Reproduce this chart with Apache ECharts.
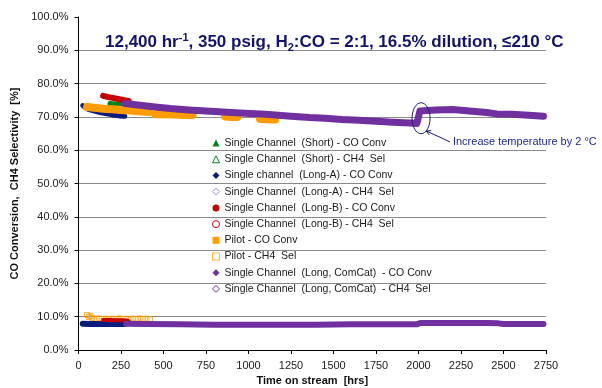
<!DOCTYPE html>
<html>
<head>
<meta charset="utf-8">
<script src="https://cdn.jsdelivr.net/npm/echarts@6/dist/echarts.min.js"></script>
<style>
html,body{margin:0;padding:0;background:#fff;}
#chart{width:602px;height:388px;}
</style>
</head>
<body>
<div id="chart"></div>
<script>
// ---- data (hours on stream, %) ----
const xTicks = [0, 250, 500, 750, 1000, 1250, 1500, 1750, 2000, 2250, 2500, 2750];
const yTicks = [0, 10, 20, 30, 40, 50, 60, 70, 80, 90, 100];

const seriesNames = [
  'Single Channel  (Short) - CO Conv',
  'Single Channel  (Short) - CH4  Sel',
  'Single channel  (Long-A) - CO Conv',
  'Single Channel  (Long-A) - CH4  Sel',
  'Single Channel  (Long-B) - CO Conv',
  'Single Channel  (Long-B) - CH4  Sel',
  'Pilot - CO Conv',
  'Pilot - CH4  Sel',
  'Single Channel  (Long, ComCat)  - CO Conv',
  'Single Channel  (Long, ComCat)  - CH4  Sel'
];

const shortCO = [[185, 74.0], [220, 73.9], [260, 73.8], [303, 73.6]];
const shortCH4 = [[190, 8.8], [230, 8.7], [270, 8.8], [300, 8.6]];

const longACO = [[25, 73.4], [40, 72.8], [60, 72.2], [90, 71.8], [126, 71.3], [160, 71.0], [200, 70.6], [240, 70.3], [272, 70.2]];
const longACH4 = [[25, 7.9], [60, 7.8], [100, 7.8], [150, 7.8], [200, 7.8], [272, 7.8]];

const longBCO = [[145, 76.3], [170, 76.0], [200, 75.7], [240, 75.3], [270, 75.0], [295, 74.8]];
const longBCH4 = [[145, 9.0], [180, 9.0], [220, 8.9], [260, 8.9], [290, 8.8]];

const pilotCO = [[50, 73.0], [80, 72.8], [120, 72.6], [160, 72.4], [200, 72.3], [250, 72.1], [300, 71.9], [350, 71.7], [415, 71.5], '-',
  [452, 70.8], [500, 70.8], [560, 70.7], [620, 70.6], [672, 70.6], '-',
  [862, 70.1], [900, 70.0], [934, 70.0], '-',
  [1068, 69.4], [1110, 69.3], [1156, 69.2]];
const pilotCH4 = [[50, 10.5], [60, 9.9], [70, 10.2], [80, 9.6], [100, 9.3], [120, 9.5], [140, 9.3], [160, 9.4], [180, 9.2], [200, 9.4],
  [220, 9.3], [240, 9.5], [260, 9.3], [280, 9.4], [300, 9.2], [320, 9.4], [340, 9.3], [360, 9.5], [380, 9.3], [400, 9.4], [420, 9.2]];

const comcatCO = [[275, 74.0], [350, 73.6], [450, 73.0], [540, 72.5], [650, 72.1], [750, 71.8], [850, 71.5], [950, 71.2], [1100, 70.8],
  [1250, 70.2], [1360, 69.8], [1450, 69.6], [1550, 69.2], [1650, 69.0], [1750, 68.7], [1850, 68.4], [1950, 68.2], [1990, 68.0],
  [1998, 67.6], [2000, 70.0], [2008, 71.8], [2100, 72.1], [2200, 72.2], [2300, 71.8], [2400, 71.3], [2460, 70.9], [2550, 70.8],
  [2650, 70.5], [2735, 70.2]];
const comcatCH4 = [[280, 7.9], [400, 7.8], [600, 7.7], [800, 7.6], [1000, 7.6], [1200, 7.6], [1400, 7.6], [1600, 7.7], [1800, 7.7],
  [1990, 7.7], [2010, 8.1], [2200, 8.1], [2400, 8.1], [2470, 8.0], [2500, 7.8], [2735, 7.8]];

const annotationText = 'Increase temperature by 2 °C';
const annotationCircle = [2015, 69.6];   // data point the callout circles
const annotationLabelAt = [2185, 62.5];  // data point where the callout text starts

// ---- styles ----
const GREEN = '#00871f', NAVY = '#0b1a7d', RED = '#c70000', ORANGE = '#ff9c00', PURPLE = '#7030a0';
const FONT = 'Liberation Sans, Arial, sans-serif';

function band(name, data, color, width) {
  return {
    name, type: 'line', data, symbol: 'none', connectNulls: false,
    itemStyle: { color },
    lineStyle: { color, width, cap: 'round', join: 'round' },
    animation: false, silent: true
  };
}

const series = [
  band(seriesNames[0], shortCO, GREEN, 5),
  band(seriesNames[1], shortCH4, GREEN, 3),
  band(seriesNames[2], longACO, NAVY, 5),
  band(seriesNames[3], longACH4, NAVY, 6),
  band(seriesNames[4], longBCO, RED, 6),
  band(seriesNames[5], longBCH4, RED, 4),
  band(seriesNames[6], pilotCO, ORANGE, 8),
  {
    name: seriesNames[7], type: 'scatter', data: pilotCH4, symbol: 'rect', symbolSize: 5,
    itemStyle: { color: 'rgba(255,255,255,0)', borderColor: ORANGE, borderWidth: 1 },
    animation: false, silent: true
  },
  band(seriesNames[8], comcatCO, PURPLE, 7),
  band(seriesNames[9], comcatCH4, PURPLE, 6)
];

const legendIcons = [
  { icon: 'triangle', itemStyle: { color: GREEN, borderWidth: 0 } },
  { icon: 'triangle', itemStyle: { color: '#fff', borderColor: GREEN, borderWidth: 1 } },
  { icon: 'diamond', itemStyle: { color: NAVY, borderWidth: 0 } },
  { icon: 'diamond', itemStyle: { color: '#fff', borderColor: '#9a9ad8', borderWidth: 1 } },
  { icon: 'circle', itemStyle: { color: RED, borderWidth: 0 } },
  { icon: 'circle', itemStyle: { color: '#fff', borderColor: RED, borderWidth: 1 } },
  { icon: 'rect', itemStyle: { color: ORANGE, borderWidth: 0 } },
  { icon: 'rect', itemStyle: { color: '#fff', borderColor: ORANGE, borderWidth: 1 } },
  { icon: 'diamond', itemStyle: { color: PURPLE, borderWidth: 0 } },
  { icon: 'diamond', itemStyle: { color: '#fff', borderColor: PURPLE, borderWidth: 1 } }
];

const chart = echarts.init(document.getElementById('chart'), null, { renderer: 'canvas' });

const gridColors = yTicks.map((v, i) => (i === yTicks.length - 1 ? 'rgba(0,0,0,0)' : '#8a8a8a'));

chart.setOption({
  animation: false,
  backgroundColor: '#fff',
  textStyle: { fontFamily: FONT },
  title: {
    text: '12,400 hr{sup|-1}, 350 psig, H{sub|2}:CO = 2:1, 16.5% dilution, ≤210 °C',
    left: 105, top: 32, padding: 0,
    textStyle: {
      color: '#14146e', fontFamily: FONT, fontWeight: 'bold', fontSize: 17, lineHeight: 21,
      rich: {
        sup: { fontSize: 11, fontWeight: 'bold', color: '#14146e', fontFamily: FONT, verticalAlign: 'top', lineHeight: 13 },
        sub: { fontSize: 11, fontWeight: 'bold', color: '#14146e', fontFamily: FONT, verticalAlign: 'bottom', lineHeight: 10 }
      }
    }
  },
  grid: { left: 78.5, right: 56, top: 17, bottom: 38, containLabel: false, outerBoundsMode: 'none' },
  legend: {
    orient: 'vertical', left: 212, top: 135, padding: 0,
    itemWidth: 7, itemHeight: 7, itemGap: 0,
    textStyle: { fontSize: 10.5, color: '#1a1a1a', fontFamily: FONT, lineHeight: 16.2 },
    selectedMode: false,
    data: seriesNames.map((n, i) => Object.assign({ name: n }, legendIcons[i]))
  },
  xAxis: {
    type: 'value', min: xTicks[0], max: xTicks[xTicks.length - 1], interval: 250,
    name: 'Time on stream  [hrs]', nameLocation: 'middle', nameGap: 25,
    nameTextStyle: { fontWeight: 'bold', fontSize: 11, color: '#111', fontFamily: FONT },
    axisLine: { lineStyle: { color: '#000', width: 1 } },
    axisTick: { show: true, length: 4, lineStyle: { color: '#000' } },
    axisLabel: { fontSize: 11, color: '#222', margin: 10, fontFamily: FONT, formatter: v => String(v) },
    splitLine: { show: false }
  },
  yAxis: {
    type: 'value', min: yTicks[0], max: yTicks[yTicks.length - 1], interval: 10,
    name: 'CO Conversion,  CH4 Selectivity  [%]', nameLocation: 'middle', nameGap: 58,
    nameTextStyle: { fontWeight: 'bold', fontSize: 11, color: '#111', fontFamily: FONT },
    axisLine: { show: true, lineStyle: { color: '#000', width: 1 } },
    axisTick: { show: true, length: 4, lineStyle: { color: '#000' } },
    axisLabel: { fontSize: 11, color: '#222', margin: 10, fontFamily: FONT, formatter: v => v.toFixed(1) + '%' },
    splitLine: { show: true, lineStyle: { color: gridColors, width: 1 } }
  },
  series
});

// ---- callout annotation, positioned through the chart's own scales ----
function drawAnnotation() {
  const c = chart.convertToPixel({ gridIndex: 0 }, annotationCircle);
  const t = chart.convertToPixel({ gridIndex: 0 }, annotationLabelAt);
  const rx = 9, ry = 15.5;
  const th = 55 * Math.PI / 180;
  const sx = c[0] + rx * Math.cos(th), sy = c[1] + ry * Math.sin(th);
  const dx = sx - t[0], dy = sy - t[1];
  const len = Math.hypot(dx, dy), ux = dx / len, uy = dy / len;
  const ah = 5, ang = 28 * Math.PI / 180;
  const rot = (x, y, a) => [x * Math.cos(a) - y * Math.sin(a), x * Math.sin(a) + y * Math.cos(a)];
  const a1 = rot(-ux, -uy, ang), a2 = rot(-ux, -uy, -ang);
  const col = '#1c1c78';
  chart.setOption({
    graphic: [
      { type: 'ellipse', shape: { cx: c[0], cy: c[1], rx, ry }, style: { fill: 'none', stroke: col, lineWidth: 1 }, z: 100, silent: true },
      { type: 'line', shape: { x1: t[0], y1: t[1], x2: sx, y2: sy }, style: { stroke: col, lineWidth: 1 }, z: 100, silent: true },
      { type: 'polyline', shape: { points: [[sx + a1[0] * ah, sy + a1[1] * ah], [sx, sy], [sx + a2[0] * ah, sy + a2[1] * ah]] }, style: { fill: 'none', stroke: col, lineWidth: 1 }, z: 100, silent: true },
      { type: 'text', x: t[0] + 3, y: t[1], style: { text: annotationText, fill: '#1f2a8c', font: '11px ' + FONT, textVerticalAlign: 'middle', verticalAlign: 'middle' }, z: 100, silent: true }
    ]
  });
}
drawAnnotation();
</script>
</body>
</html>
